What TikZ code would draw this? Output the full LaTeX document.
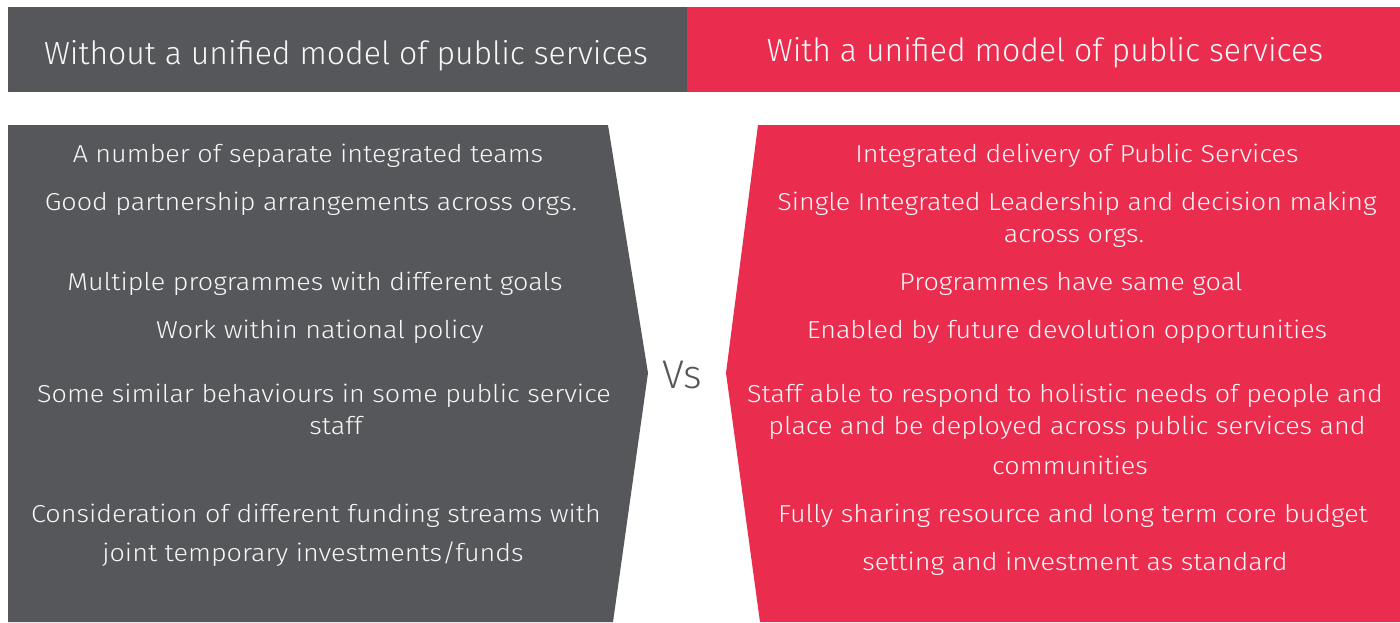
\documentclass[tikz,border=0pt]{standalone}
\usepackage{fontspec}
\IfFontExistsTF{Fira Sans Light}{\setmainfont{Fira Sans Light}}{\setmainfont{Fira Sans}}
\newfontfamily\largo{Fira Sans Light}[FakeStretch=1.1]
\usepackage{tikz}

\definecolor{grigio}{HTML}{56575A}
\definecolor{rosso}{HTML}{EA2C4E}
\tikzset{
  head/.style={text=white!94!gray, font=\fontsize{32}{38}\selectfont, inner sep=0, anchor=base},
  riga/.style={text=white!94!gray, font=\largo\fontsize{24.5}{30}\selectfont, inner sep=0, anchor=base}
}

\begin{document}
\begin{tikzpicture}[x=1pt,y=-1pt]
\useasboundingbox (0,0) rectangle (1400,622);
% intestazioni
\fill[grigio] (8,7) rectangle (687,92);
\fill[rosso] (687,7) rectangle (1400,92);
\node[head] (hsx) at (346,64) {Without a unified model of public services};
\node[head] (hdx) at (1045,61) {With a unified model of public services};
% pannelli
\fill[grigio] (8,125) -- (608,125) -- (648,373) -- (613,622) -- (8,622) -- cycle;
\fill[rosso] (758,125) -- (1400,125) -- (1400,622) -- (760,622) -- (726,373) -- cycle;
\node[text=grigio, font=\fontsize{40}{44}\selectfont, inner sep=0] (vs) at (682,375) {Vs};
% colonna sinistra
\node[riga] (s1) at (308,162) {A number of separate integrated teams};
\node[riga] (s2) at (311,210) {Good partnership arrangements across orgs.};
\node[riga] (s3) at (315,290) {Multiple programmes with different goals};
\node[riga] (s4) at (320,338) {Work within national policy};
\node[riga] (s5a) at (324,402) {Some similar behaviours in some public service};
\node[riga] (s5b) at (336,434) {staff};
\node[riga] (s6a) at (316,522) {Consideration of different funding streams with};
\node[riga] (s6b) at (313,561) {joint temporary investments/funds};
% colonna destra
\node[riga] (d1) at (1077,162) {Integrated delivery of Public Services};
\node[riga] (d2a) at (1077,210) {Single Integrated Leadership and decision making};
\node[riga] (d2b) at (1074,242) {across orgs.};
\node[riga] (d3) at (1071,290) {Programmes have same goal};
\node[riga] (d4) at (1067,338) {Enabled by future devolution opportunities};
\node[riga] (d5a) at (1065,402) {Staff able to respond to holistic needs of people and};
\node[riga] (d5b) at (1067,434) {place and be deployed across public services and};
\node[riga] (d5c) at (1070,474) {communities};
\node[riga] (d6a) at (1073,522) {Fully sharing resource and long term core budget};
\node[riga] (d6b) at (1075,570) {setting and investment as standard};
\end{tikzpicture}
\end{document}
